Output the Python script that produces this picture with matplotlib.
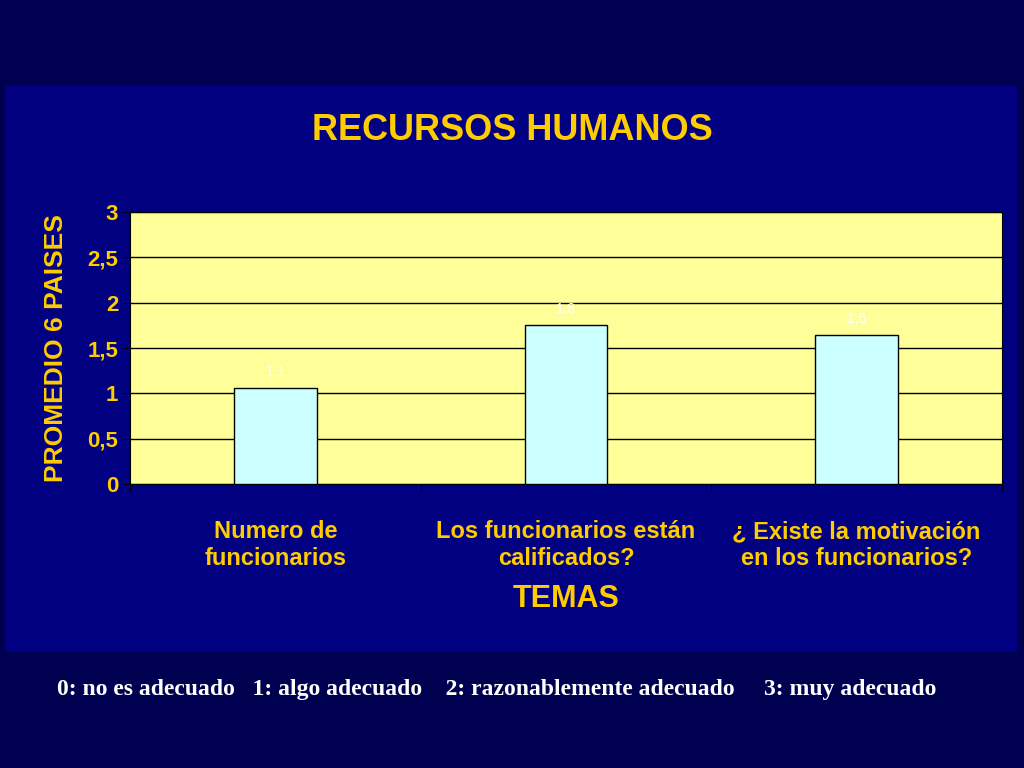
import matplotlib
matplotlib.use("Agg")
import matplotlib.pyplot as plt
from matplotlib.patches import Rectangle

plt.rcParams["font.family"] = "Liberation Sans"

categories = ["Numero de\nfuncionarios", "Los funcionarios están\ncalificados?", "¿ Existe la motivación\nen los funcionarios?"]
values = [1.06, 1.75, 1.64]
value_labels = ["1,1", "1,8", "1,6"]
yticks = [0, 0.5, 1, 1.5, 2, 2.5, 3]
ytick_labels = ["0", "0,5", "1", "1,5", "2", "2,5", "3"]

yellow = "#FFCC00"
fig = plt.figure(figsize=(10.24, 7.68), dpi=100, facecolor="#000050")
fig.patches.append(Rectangle((5/1024, 1-652/768), 1012/1024, 567/768, transform=fig.transFigure,
                             facecolor="#000080", edgecolor="none", zorder=-10))
ax = fig.add_axes([130/1024, 1-484/768, 872/1024, 272/768])
ax.set_zorder(5)
ax.set_facecolor("#FFFF99")
x = range(len(categories))
ax.bar(x, values, width=0.285, color="#CCFFFF", edgecolor="black", linewidth=1, zorder=3)
for xi, v, l in zip(x, values, value_labels):
    ax.text(xi, v + 0.1, l, ha="center", va="bottom", fontsize=10, color="white")
ax.set_xlim(-0.5, 2.5)
ax.set_ylim(0, 3)
ax.set_yticks(yticks)
ax.set_yticklabels(ytick_labels, color=yellow, fontsize=16, fontweight="bold")
ax.yaxis.grid(True, color="black", linewidth=1)
ax.set_axisbelow(True)
ax.set_xticks([-0.5, 0.5, 1.5, 2.5])
ax.set_xticklabels([])
ax.set_xticks(list(x), minor=True)
ax.set_xticklabels(categories, minor=True, color=yellow, fontsize=17, fontweight="bold")
ax.tick_params(axis="x", which="minor", length=0, pad=26)
ax.tick_params(axis="x", which="major", length=5, color="black")
ax.tick_params(axis="y", length=5, color="black")
for s in ax.spines.values():
    s.set_color("black")
ax.set_ylabel("PROMEDIO 6 PAISES", color=yellow, fontsize=19, fontweight="bold", labelpad=14)
ax.set_xlabel("TEMAS", color=yellow, fontsize=22, fontweight="bold", labelpad=10)
fig.text(512/1024, 1-130/768, "RECURSOS HUMANOS", ha="center", va="center", color=yellow,
         fontsize=26, fontweight="bold")
fig.text(497/1024, 1-690/768,
         "0: no es adecuado   1: algo adecuado    2: razonablemente adecuado     3: muy adecuado",
         ha="center", va="center", color="white", fontsize=17, fontweight="bold", family="Liberation Serif")
fig.savefig("out.png", dpi=100, facecolor=fig.get_facecolor())
